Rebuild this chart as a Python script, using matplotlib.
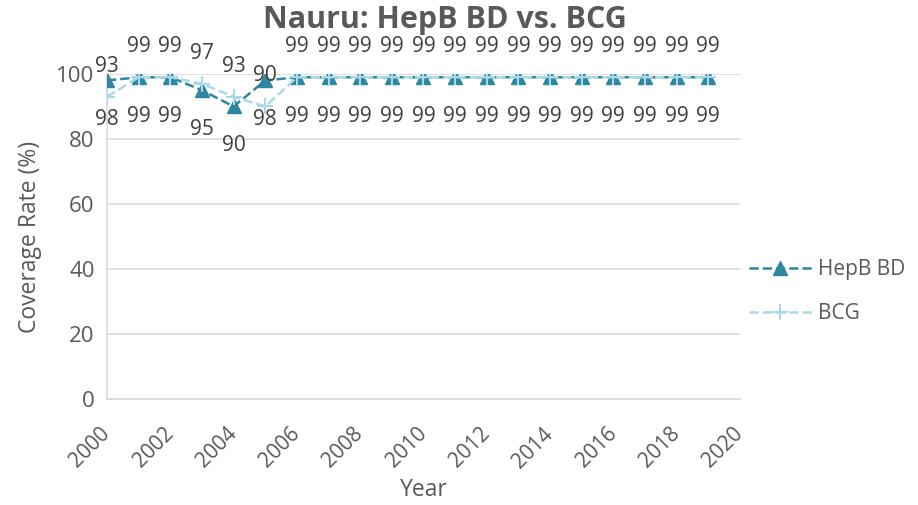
import matplotlib.pyplot as plt
import numpy as np

years = list(range(2000, 2020))
hepb_bd = [98, 99, 99, 95, 90, 98] + [99] * 14
bcg = [93, 99, 99, 97, 93, 90] + [99] * 14

HEPB_COLOR = '#2E87A0'
BCG_COLOR = '#A9D9E8'
TEXT = '#595959'

plt.rcParams['font.family'] = ['Open Sans', 'DejaVu Sans']

fig = plt.figure(figsize=(9.18, 5.05), dpi=100)
ax = fig.add_axes([0.1166, 0.21, 0.806 - 0.1166, 0.8535 - 0.21])

ax.plot(years, hepb_bd, linestyle='--', color=HEPB_COLOR, marker='^', markersize=10,
        linewidth=1.8, label='HepB BD', zorder=3)
ax.plot(years, bcg, linestyle='--', color=BCG_COLOR, marker='+', markersize=11,
        markeredgewidth=1.5, linewidth=1.8, label='BCG', zorder=4)

# data labels: HepB below, BCG above
for x, h, b in zip(years, hepb_bd, bcg):
    ax.annotate(str(h), (x, h), xytext=(0, -28), textcoords='offset points',
                ha='center', va='center', fontsize=15, color='#404040')
    ax.annotate(str(b), (x, b), xytext=(0, 22), textcoords='offset points',
                ha='center', va='center', fontsize=15, color='#404040')

ax.set_xlim(2000, 2020)
ax.set_ylim(0, 100)
ax.set_xticks(range(2000, 2021, 2))
ax.set_yticks(range(0, 101, 20))
ax.tick_params(axis='y', length=0, labelsize=16, colors=TEXT, pad=9)
ax.tick_params(axis='x', length=0, labelsize=15, colors=TEXT, pad=23)
plt.setp(ax.get_xticklabels(), rotation=45, ha='right', va='center',
         rotation_mode='anchor')

ax.grid(axis='y', color='#D9D9D9', linewidth=1.2)
ax.set_axisbelow(True)
for s in ['top', 'right']:
    ax.spines[s].set_visible(False)
for s in ['left', 'bottom']:
    ax.spines[s].set_color('#D9D9D9')
    ax.spines[s].set_linewidth(1.2)

ax.set_xlabel('Year', fontsize=16.5, color=TEXT, labelpad=4)
ax.set_ylabel('Coverage Rate (%)', fontsize=16.5, color=TEXT, labelpad=10)
fig.text(0.485, 0.96, 'Nauru: HepB BD vs. BCG', ha='center', va='center',
         fontsize=22, fontweight='bold', color=TEXT)

leg = ax.legend(loc='center left', bbox_to_anchor=(0.985, 0.33), frameon=False,
                fontsize=15, labelspacing=1.1, handlelength=3.0,
                handletextpad=0.3, labelcolor=TEXT)

fig.savefig('out.png', dpi=100)
